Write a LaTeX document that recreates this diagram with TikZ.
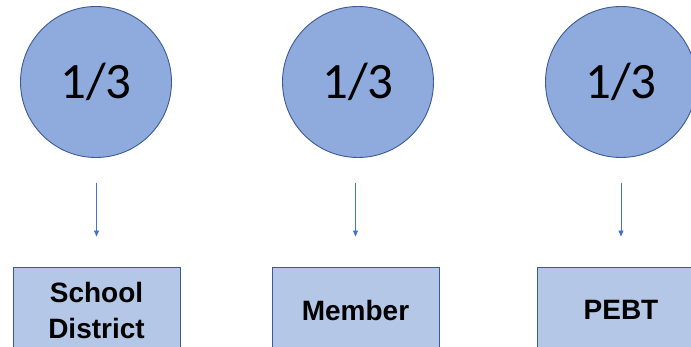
\documentclass[tikz,border=0pt]{standalone}
\usepackage{fontspec}
\setmainfont{Carlito}
\newfontfamily\labelfont{Liberation Sans}
\usetikzlibrary{arrows.meta}
\definecolor{circfill}{HTML}{8FAADC}
\definecolor{boxfill}{HTML}{B4C7E7}
\definecolor{edgeblue}{HTML}{3C5A96}
\definecolor{arrowblue}{HTML}{4472C4}
\begin{document}
\begin{tikzpicture}[x=1pt,y=-1pt,
  share/.style={circle, draw=edgeblue, fill=circfill, line width=0.9pt,
    minimum size=151pt, inner sep=0pt,
    font=\fontsize{51}{60}\selectfont},
  party/.style={rectangle, draw=edgeblue, fill=boxfill, line width=0.9pt,
    minimum width=167pt, minimum height=86pt, inner sep=0pt, align=center,
    font=\labelfont\bfseries\fontsize{28}{36}\selectfont},
  flow/.style={draw=arrowblue, line width=0.8pt,
    -{Triangle[length=6pt,width=5pt]}}]
\useasboundingbox (0,0) rectangle (691,347);
\clip (0,0) rectangle (691,347);

% share circles
\node[share] (c1) at (96,82)  {1/3};
\node[share] (c2) at (358,82) {1/3};
\node[share] (c3) at (621,82) {1/3};

% receiving parties
\node[party] (b1) at (96.5,310) {School\\District};
\node[party] (b2) at (355.5,310) {Member};
\node[party] (b3) at (621,310) {PEBT};

% arrows from each share to its party
\draw[flow, shorten <=25pt, shorten >=30pt] (b1.north |- c1.south) -- (b1.north);
\draw[flow, shorten <=25pt, shorten >=30pt] (b2.north |- c2.south) -- (b2.north);
\draw[flow, shorten <=25pt, shorten >=30pt] (b3.north |- c3.south) -- (b3.north);
\end{tikzpicture}
\end{document}
